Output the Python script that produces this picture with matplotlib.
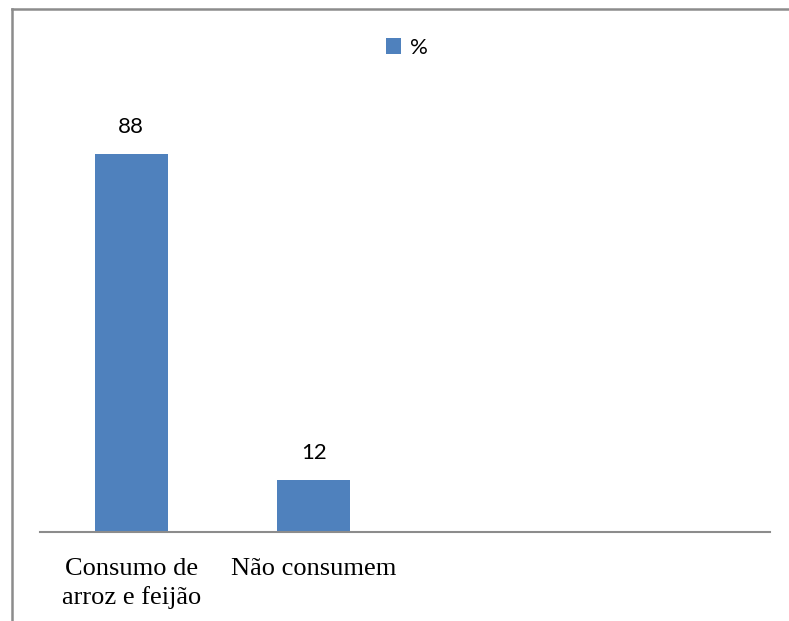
import matplotlib.pyplot as plt
from matplotlib.lines import Line2D
import numpy as np

categories = ["Consumo de\narroz e feijão", "Não consumem", "", ""]
values = [88, 12]
series_name = "%"

W, H = 789, 621
fig = plt.figure(figsize=(W / 100, H / 100), dpi=100)
ax = fig.add_axes([40 / W, 89 / H, 730 / W, (532 - 102.5) / H])

x = np.arange(len(categories))
bars = ax.bar(x[:len(values)], values, width=0.4, color="#4F81BD", label=series_name)

for b, v in zip(bars, values):
    ax.text(b.get_x() + b.get_width() / 2, v + 4, f"{v}", ha="center", va="bottom",
            fontsize=16, family="Lato", color="black")

ax.set_xlim(-0.5, len(categories) - 0.5)
ax.set_ylim(0, 100)
ax.set_xticks(x)
ax.set_xticklabels(categories, family="Liberation Serif", fontsize=19, linespacing=1.32)
ax.tick_params(axis="x", length=0, pad=19)
ax.set_yticks([])
for s in ["top", "right", "left"]:
    ax.spines[s].set_visible(False)
ax.spines["bottom"].set_color("#8c8c8c")
ax.spines["bottom"].set_linewidth(1.5)

fig.legend(handles=[bars], labels=[series_name], loc="center",
           bbox_to_anchor=(407 / W, 1 - 48 / H), frameon=False,
           prop={"family": "Lato", "size": 16}, handlelength=0.7, handleheight=0.7,
           handletextpad=0.4)

# outer frame (left and top edges visible)
fig.add_artist(Line2D([11.5 / W, 11.5 / W], [0, 1 - 9 / H], transform=fig.transFigure,
                      color="#8c8c8c", lw=1.8))
fig.add_artist(Line2D([11.5 / W, 1], [1 - 9 / H, 1 - 9 / H], transform=fig.transFigure,
                      color="#8c8c8c", lw=1.8))

fig.savefig("out.png", dpi=100)
